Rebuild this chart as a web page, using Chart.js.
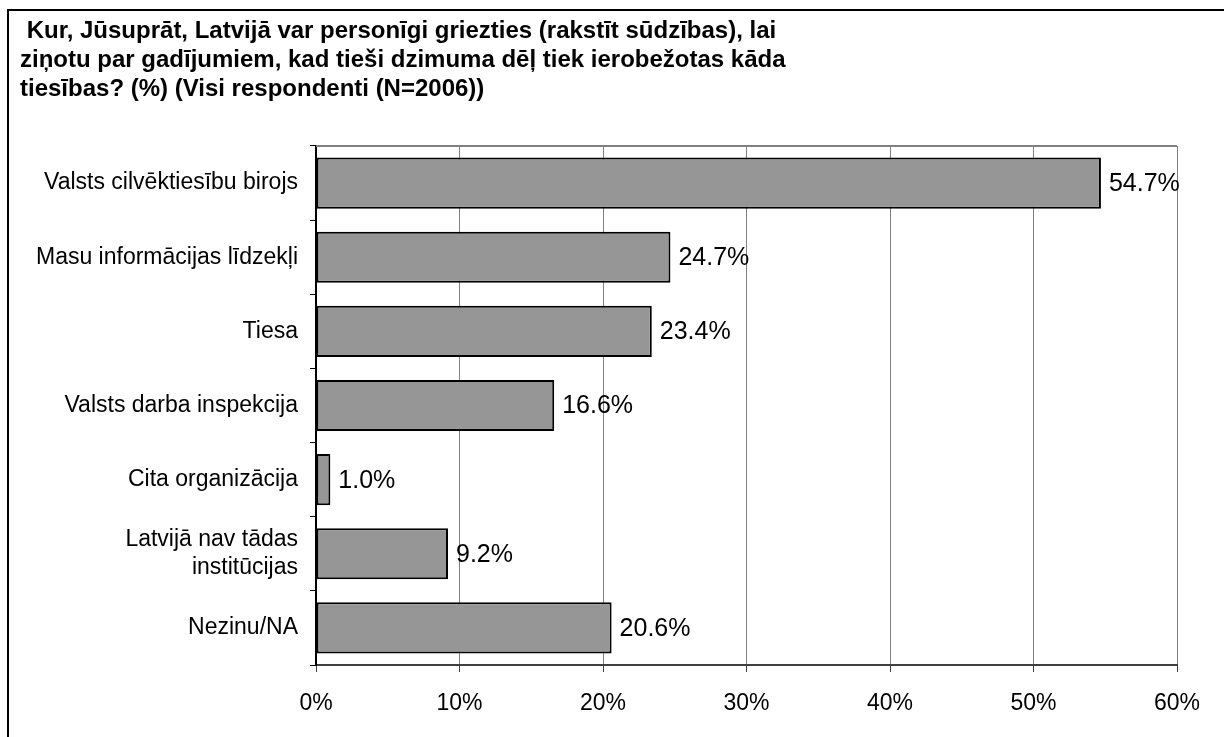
<!DOCTYPE html>
<html>
<head>
<meta charset="utf-8">
<script src="https://cdn.jsdelivr.net/npm/chart.js@4"></script>
<style>
    html, body { margin: 0; padding: 0; background: #fff; }
    body { width: 1224px; height: 737px; position: relative; overflow: hidden; }
    .frame {
        position: absolute; left: 7px; top: 9px; width: 1300px; height: 800px;
        border-left: 2px solid #000; border-top: 2px solid #000;
    }
    #wrap { position: absolute; left: 0; top: 0; width: 1224px; height: 737px; }
</style>
</head>
<body>
<div class="frame"></div>
<div id="wrap"><canvas id="chart"></canvas></div>
<script>
// title lines (as shown)
const titleLines = [
    " Kur, Jūsuprāt, Latvijā var personīgi griezties (rakstīt sūdzības), lai",
    "ziņotu par gadījumiem, kad tieši dzimuma dēļ tiek ierobežotas kāda",
    "tiesības? (%) (Visi respondenti (N=2006))"
];

// categories, top to bottom
const categories = [
    "Valsts cilvēktiesību birojs",
    "Masu informācijas līdzekļi",
    "Tiesa",
    "Valsts darba inspekcija",
    "Cita organizācija",
    ["Latvijā nav tādas", "institūcijas"],
    "Nezinu/NA"
];

// percentages
const values = [54.7, 24.7, 23.4, 16.6, 1.0, 9.2, 20.6];

// x axis ticks
const xTicks = [0, 10, 20, 30, 40, 50, 60];

document.addEventListener("DOMContentLoaded", () => {
    Chart.defaults.font.family = "'Liberation Sans', Arial, sans-serif";
    Chart.defaults.color = "#000";

    // numbers to the right of every bar
    const barLabels = {
        id: "barLabels",
        afterDatasetsDraw(chart) {
            const ctx = chart.ctx;
            const meta = chart.getDatasetMeta(0);
            ctx.save();
            ctx.font = "25px 'Liberation Sans', Arial, sans-serif";
            ctx.fillStyle = "#000";
            ctx.textAlign = "left";
            ctx.textBaseline = "middle";
            meta.data.forEach((bar, i) => {
                ctx.fillText(values[i].toFixed(1) + "%", bar.x + 8, bar.y + 1);
            });
            ctx.restore();
        }
    };

    // grey line along the top of the plot area
    const plotTop = {
        id: "plotTop",
        beforeDatasetsDraw(chart) {
            const a = chart.chartArea;
            const ctx = chart.ctx;
            ctx.save();
            ctx.strokeStyle = "#808080";
            ctx.lineWidth = 2;
            ctx.beginPath();
            ctx.moveTo(a.left, a.top);
            ctx.lineTo(a.right, a.top);
            ctx.stroke();
            ctx.restore();
        }
    };

    const ctx = document.getElementById("chart").getContext("2d");
    new Chart(ctx, {
        type: "bar",
        data: {
            labels: categories,
            datasets: [{
                data: values,
                backgroundColor: "#969696",
                borderColor: "#000",
                borderWidth: 2,
                borderSkipped: false,
                categoryPercentage: 1,
                barPercentage: 0.69
            }]
        },
        options: {
            indexAxis: "y",
            responsive: true,
            maintainAspectRatio: false,
            animation: false,
            layout: { padding: { left: 20, right: 47, top: 0, bottom: 0 } },
            plugins: {
                legend: { display: false },
                tooltip: { enabled: false },
                title: {
                    display: true,
                    text: titleLines,
                    align: "start",
                    color: "#000",
                    font: { size: 24, weight: "bold", lineHeight: 29 / 24 },
                    padding: { top: 17, bottom: 42 }
                }
            },
            scales: {
                x: {
                    min: 0,
                    max: 60,
                    afterBuildTicks: (scale) => {
                        scale.ticks = xTicks.map(v => ({ value: v }));
                    },
                    afterFit: (scale) => { scale.height = 72; },
                    ticks: {
                        font: { size: 23 },
                        color: "#000",
                        padding: 18,
                        maxRotation: 0,
                        callback: (v) => v + "%"
                    },
                    grid: {
                        color: "#808080",
                        lineWidth: 1,
                        tickLength: 7,
                        tickColor: "#404040"
                    },
                    border: { color: "#404040", width: 2 }
                },
                y: {
                    afterFit: (scale) => { scale.width = 296; },
                    ticks: {
                        font: { size: 23 },
                        color: "#000",
                        padding: 12
                    },
                    grid: {
                        drawOnChartArea: false,
                        offset: true,
                        tickLength: 6,
                        tickColor: "#000"
                    },
                    border: { color: "#000", width: 2 }
                }
            }
        },
        plugins: [plotTop, barLabels]
    });
});
</script>
</body>
</html>
